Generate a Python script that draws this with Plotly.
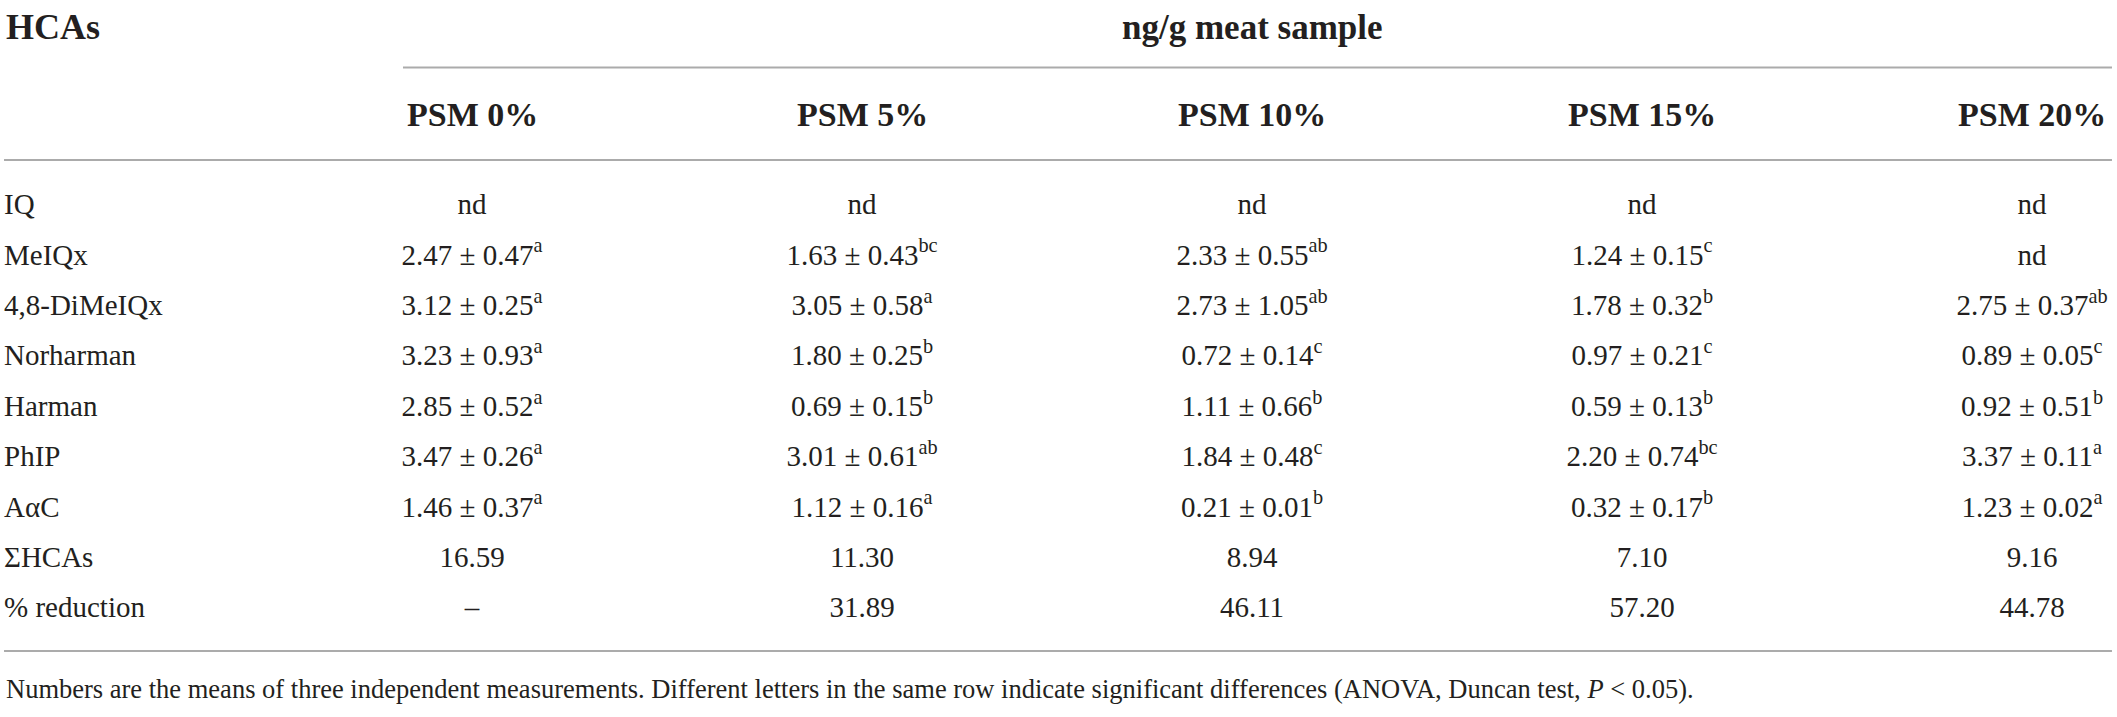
import plotly.graph_objects as go

# table content
compounds = ["IQ", "MeIQx", "4,8-DiMeIQx", "Norharman", "Harman", "PhIP", "AαC"]
levels = ["PSM 0%", "PSM 5%", "PSM 10%", "PSM 15%", "PSM 20%"]

mean_0 = [None, 2.47, 3.12, 3.23, 2.85, 3.47, 1.46]
sd_0 = [None, 0.47, 0.25, 0.93, 0.52, 0.26, 0.37]
sig_0 = [None, "a", "a", "a", "a", "a", "a"]

mean_5 = [None, 1.63, 3.05, 1.80, 0.69, 3.01, 1.12]
sd_5 = [None, 0.43, 0.58, 0.25, 0.15, 0.61, 0.16]
sig_5 = [None, "bc", "a", "b", "b", "ab", "a"]

mean_10 = [None, 2.33, 2.73, 0.72, 1.11, 1.84, 0.21]
sd_10 = [None, 0.55, 1.05, 0.14, 0.66, 0.48, 0.01]
sig_10 = [None, "ab", "ab", "c", "b", "c", "b"]

mean_15 = [None, 1.24, 1.78, 0.97, 0.59, 2.20, 0.32]
sd_15 = [None, 0.15, 0.32, 0.21, 0.13, 0.74, 0.17]
sig_15 = [None, "c", "b", "c", "b", "bc", "b"]

mean_20 = [None, None, 2.75, 0.89, 0.92, 3.37, 1.23]
sd_20 = [None, None, 0.37, 0.05, 0.51, 0.11, 0.02]
sig_20 = [None, None, "ab", "c", "b", "a", "a"]

sum_hcas = [16.59, 11.30, 8.94, 7.10, 9.16]
reduction = [None, 31.89, 46.11, 57.20, 44.78]

footnote = ("Numbers are the means of three independent measurements. Different letters in the same "
            "row indicate significant differences (ANOVA, Duncan test, <i>P</i> &lt; 0.05).")

row_labels = compounds + ["ΣHCAs", "% reduction"]

means = [mean_0, mean_5, mean_10, mean_15, mean_20]
sds = [sd_0, sd_5, sd_10, sd_15, sd_20]
sigs = [sig_0, sig_5, sig_10, sig_15, sig_20]

INK = "#231f20"
RULE = "#ababab"
BODY = dict(family="Liberation Serif", size=29, color=INK)

fig = go.Figure()

# first column: row labels
fig.add_trace(go.Scatter(
    x=[-0.2] * len(row_labels), y=list(range(len(row_labels))),
    mode="text", text=row_labels, textposition="middle right",
    textfont=BODY, hoverinfo="skip", showlegend=False))

for k in range(len(levels)):
    cells = []
    for m, s, g in zip(means[k], sds[k], sigs[k]):
        if m is None:
            cells.append("nd")
        else:
            cells.append(f"{m:.2f} ± {s:.2f}<sup>{g}</sup>")
    cells.append(f"{sum_hcas[k]:.2f}")
    cells.append("–" if reduction[k] is None else f"{reduction[k]:.2f}")
    fig.add_trace(go.Scatter(
        x=[k + 1] * len(cells), y=list(range(len(cells))),
        mode="text", text=cells, textposition="middle center",
        textfont=BODY, hoverinfo="skip", showlegend=False))

# headers
head = dict(family="Liberation Serif", size=34, color=INK)
fig.add_annotation(x=-0.2, y=-3.57, xref="x", yref="y", text="<b>HCAs</b>",
                   xanchor="left", showarrow=False, font=dict(head, size=36))
fig.add_annotation(x=3.0, y=-3.57, xref="x", yref="y", text="<b>ng/g meat sample</b>",
                   showarrow=False, font=dict(head, size=35))
for k, lv in enumerate(levels):
    fig.add_annotation(x=k + 1, y=-1.845, xref="x", yref="y", text=f"<b>{lv}</b>",
                       showarrow=False, font=head)

fig.add_annotation(x=-0.2, y=9.56, xref="x", yref="y", text=footnote, xanchor="left",
                   showarrow=False, font=dict(family="Liberation Serif", size=26.5, color=INK))

# rules
for x0, y in [(0.823, -2.77), (-0.2, -0.93), (-0.2, 8.81)]:
    fig.add_shape(type="line", xref="x", yref="y", x0=x0, x1=5.205, y0=y, y1=y,
                  line=dict(color=RULE, width=2))

fig.update_xaxes(range=[-0.2103, 5.2179], visible=False, fixedrange=True)
fig.update_yaxes(range=[10.119, -4.107], visible=False, fixedrange=True)
fig.update_layout(width=2117, height=717, margin=dict(l=0, r=0, t=0, b=0),
                  paper_bgcolor="white", plot_bgcolor="white", hovermode=False)

fig.write_html("out.html", config={"displayModeBar": False},
               post_script="document.body.style.margin='0';")
